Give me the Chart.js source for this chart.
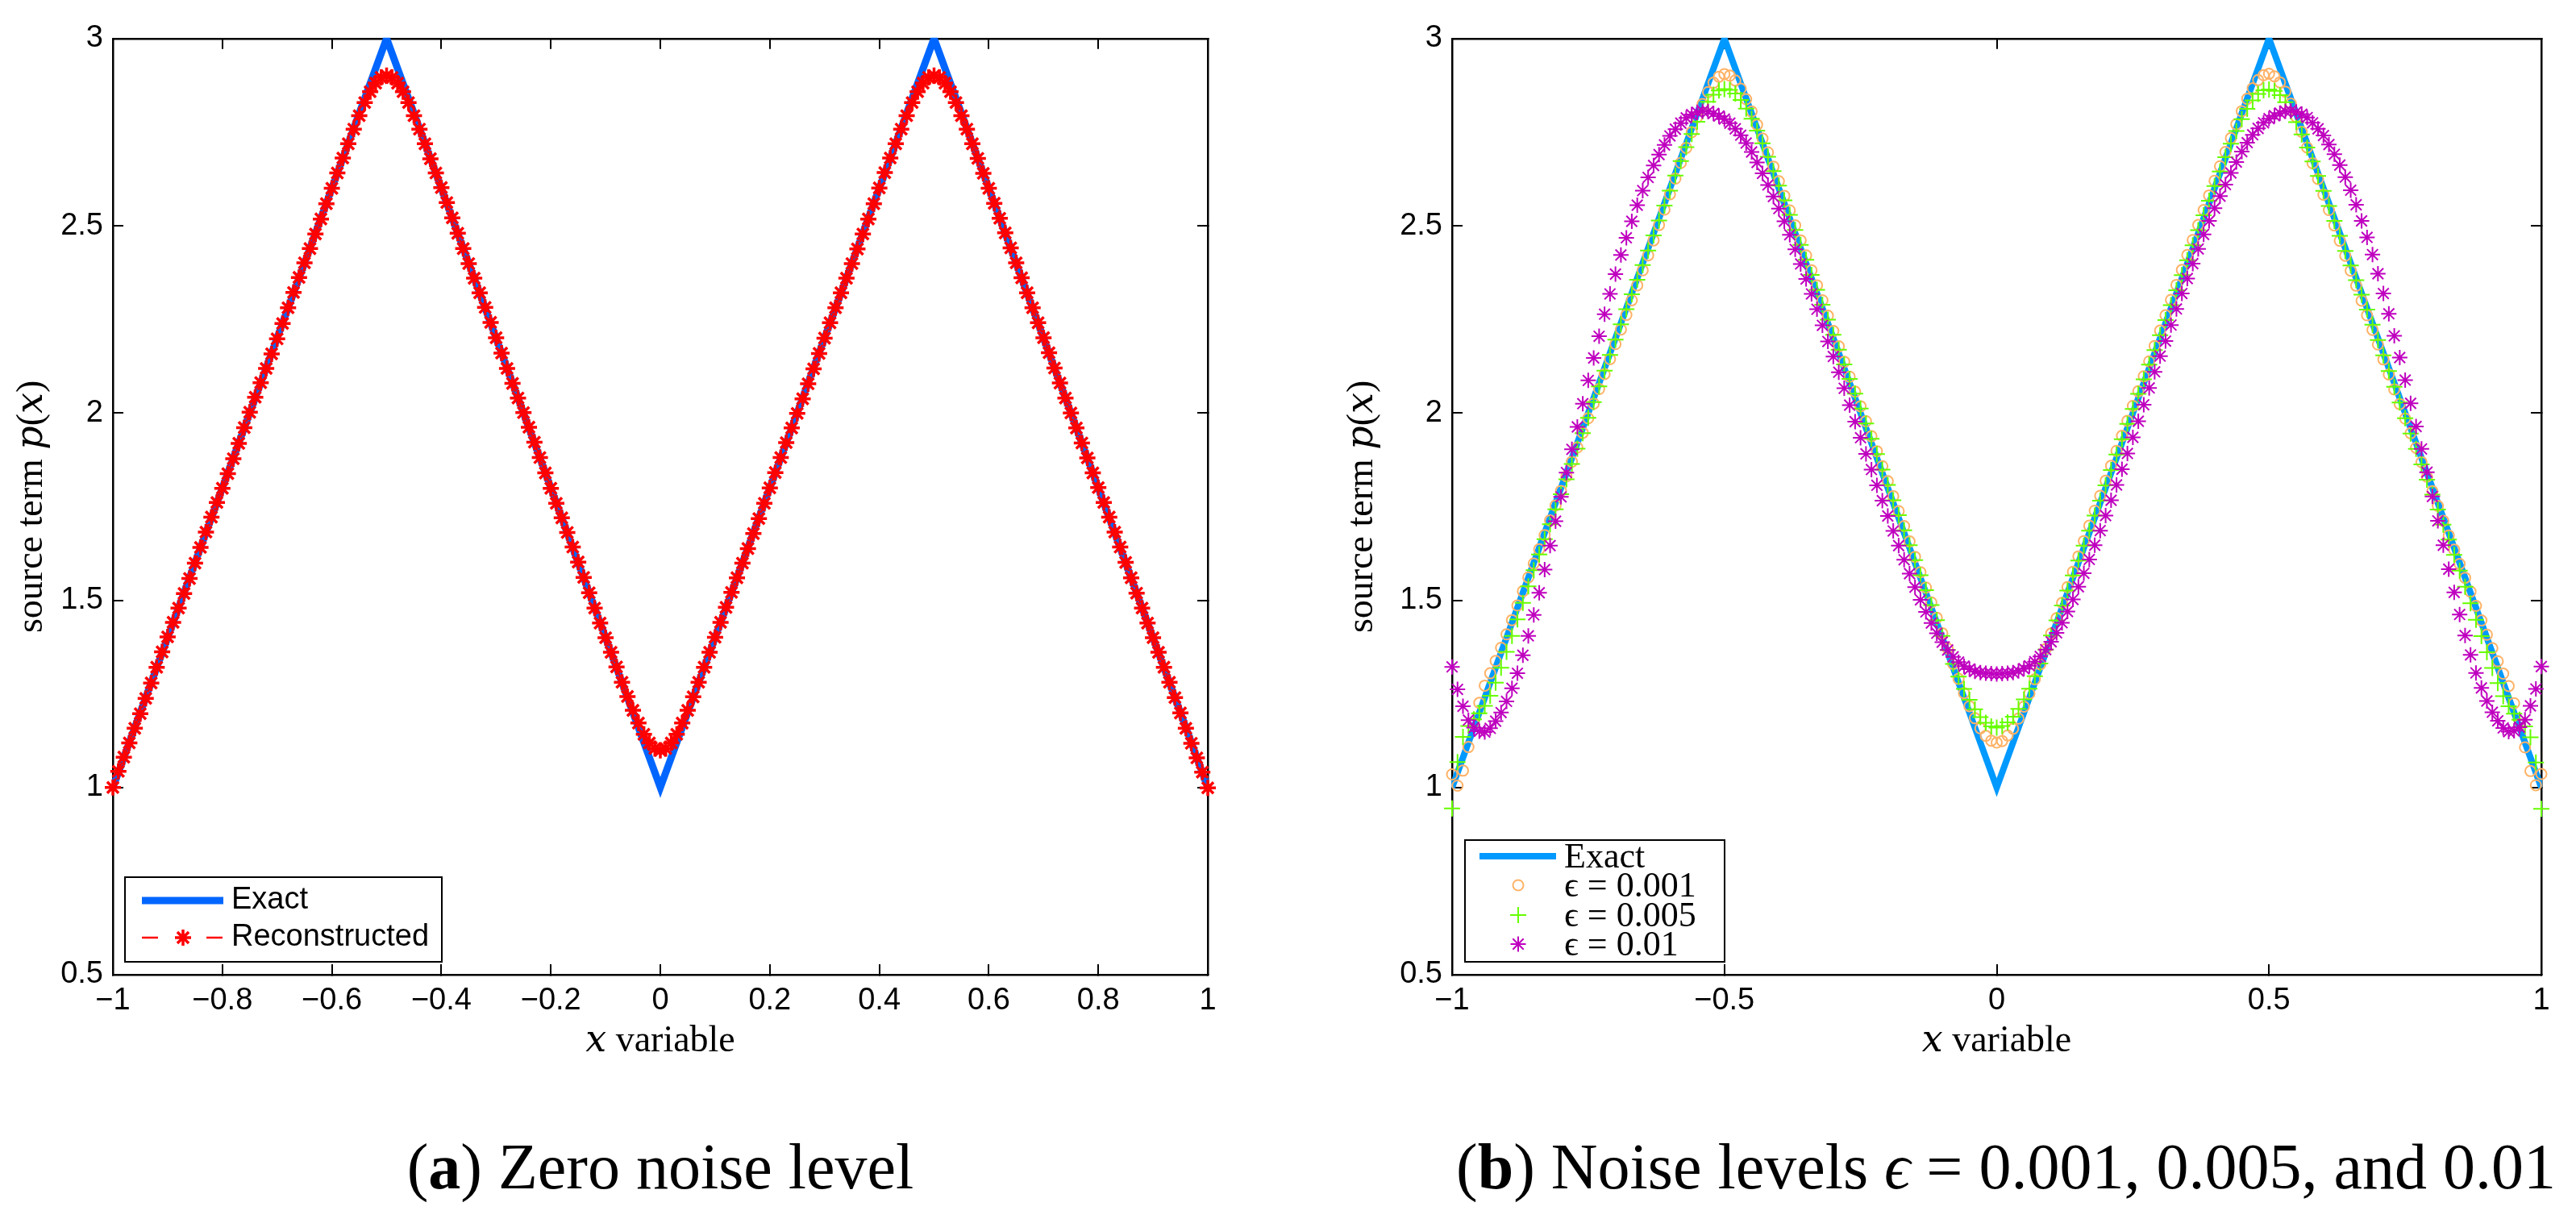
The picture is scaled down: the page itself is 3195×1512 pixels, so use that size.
<!DOCTYPE html>
<html><head><meta charset="utf-8">
<script src="https://cdn.jsdelivr.net/npm/chart.js@4.4.1/dist/chart.umd.min.js"></script>
<style>
html,body{margin:0;padding:0;background:#fff;}
body{width:3195px;height:1512px;position:relative;overflow:hidden;}
canvas{position:absolute;}
#cA{left:0;top:0;}
#cB{left:1650px;top:0;}
.cap{position:absolute;top:1402px;font-family:"Liberation Serif","Times New Roman",serif;font-size:80px;line-height:90px;color:#000;white-space:nowrap;transform:translateX(-50%);}
</style></head><body>
<canvas id="cA" width="1560" height="1340"></canvas>
<canvas id="cB" width="1545" height="1340"></canvas>
<div class="cap" style="left:819px">(<b>a</b>) Zero noise level</div>
<div class="cap" style="left:2488px">(<b>b</b>) Noise levels <i>ϵ</i> = 0.001, 0.005, and 0.01</div>
<script>
// ---------------- data ----------------
const xGrid = [
-1,-0.99,-0.98,-0.97,-0.96,-0.95,-0.94,-0.93,-0.92,-0.91,
-0.9,-0.89,-0.88,-0.87,-0.86,-0.85,-0.84,-0.83,-0.82,-0.81,
-0.8,-0.79,-0.78,-0.77,-0.76,-0.75,-0.74,-0.73,-0.72,-0.71,
-0.7,-0.69,-0.68,-0.67,-0.66,-0.65,-0.64,-0.63,-0.62,-0.61,
-0.6,-0.59,-0.58,-0.57,-0.56,-0.55,-0.54,-0.53,-0.52,-0.51,
-0.5,-0.49,-0.48,-0.47,-0.46,-0.45,-0.44,-0.43,-0.42,-0.41,
-0.4,-0.39,-0.38,-0.37,-0.36,-0.35,-0.34,-0.33,-0.32,-0.31,
-0.3,-0.29,-0.28,-0.27,-0.26,-0.25,-0.24,-0.23,-0.22,-0.21,
-0.2,-0.19,-0.18,-0.17,-0.16,-0.15,-0.14,-0.13,-0.12,-0.11,
-0.1,-0.09,-0.08,-0.07,-0.06,-0.05,-0.04,-0.03,-0.02,-0.01,
0,
0.01,0.02,0.03,0.04,0.05,0.06,0.07,0.08,0.09,
0.1,0.11,0.12,0.13,0.14,0.15,0.16,0.17,0.18,0.19,
0.2,0.21,0.22,0.23,0.24,0.25,0.26,0.27,0.28,0.29,
0.3,0.31,0.32,0.33,0.34,0.35,0.36,0.37,0.38,0.39,
0.4,0.41,0.42,0.43,0.44,0.45,0.46,0.47,0.48,0.49,
0.5,0.51,0.52,0.53,0.54,0.55,0.56,0.57,0.58,0.59,
0.6,0.61,0.62,0.63,0.64,0.65,0.66,0.67,0.68,0.69,
0.7,0.71,0.72,0.73,0.74,0.75,0.76,0.77,0.78,0.79,
0.8,0.81,0.82,0.83,0.84,0.85,0.86,0.87,0.88,0.89,
0.9,0.91,0.92,0.93,0.94,0.95,0.96,0.97,0.98,0.99,
1];

const exactX = [-1, -0.5, 0, 0.5, 1];
const exactY = [1, 3, 1, 3, 1];

const reconstructed = [
1.000,1.043,1.081,1.119,1.158,1.197,1.238,1.279,1.321,1.362,
1.402,1.441,1.479,1.518,1.558,1.599,1.641,1.682,1.722,1.761,
1.799,1.838,1.878,1.919,1.961,2.002,2.042,2.081,2.119,2.158,
2.198,2.239,2.281,2.322,2.362,2.401,2.439,2.478,2.518,2.559,
2.600,2.641,2.681,2.719,2.758,2.794,2.829,2.858,2.881,2.896,
2.901,2.896,2.881,2.858,2.829,2.794,2.758,2.719,2.679,2.641,
2.602,2.562,2.521,2.480,2.439,2.399,2.360,2.321,2.282,2.242,
2.201,2.160,2.119,2.079,2.040,2.001,1.962,1.922,1.881,1.840,
1.799,1.759,1.720,1.681,1.642,1.602,1.561,1.520,1.479,1.439,
1.400,1.361,1.322,1.281,1.243,1.206,1.172,1.142,1.119,1.104,
1.099,
1.104,1.119,1.142,1.172,1.206,1.242,1.281,1.321,1.361,
1.401,1.441,1.481,1.521,1.560,1.599,1.638,1.678,1.718,1.759,
1.800,1.841,1.881,1.921,1.960,1.999,2.038,2.078,2.118,2.159,
2.200,2.241,2.281,2.321,2.360,2.399,2.438,2.478,2.518,2.559,
2.601,2.642,2.681,2.719,2.758,2.794,2.829,2.858,2.881,2.896,
2.901,2.896,2.881,2.858,2.829,2.794,2.758,2.719,2.680,2.640,
2.600,2.560,2.520,2.481,2.441,2.401,2.361,2.321,2.281,2.241,
2.201,2.161,2.120,2.080,2.040,2.000,1.960,1.920,1.880,1.840,
1.801,1.761,1.722,1.682,1.642,1.601,1.560,1.519,1.479,1.439,
1.400,1.361,1.321,1.281,1.240,1.199,1.158,1.118,1.079,1.041,
0.999];

const eps001 = [
1.035,1.005,1.045,1.108,1.170,1.226,1.272,1.305,1.338,1.373,
1.409,1.447,1.486,1.524,1.561,1.598,1.636,1.674,1.713,1.753,
1.792,1.831,1.870,1.908,1.947,1.986,2.025,2.064,2.104,2.144,
2.184,2.223,2.262,2.301,2.341,2.381,2.421,2.461,2.502,2.543,
2.584,2.626,2.668,2.708,2.750,2.790,2.825,2.857,2.882,2.898,
2.905,2.901,2.888,2.866,2.838,2.805,2.770,2.733,2.696,2.658,
2.619,2.580,2.541,2.501,2.461,2.421,2.381,2.341,2.301,2.260,
2.219,2.178,2.137,2.097,2.057,2.018,1.978,1.938,1.898,1.858,
1.818,1.778,1.738,1.698,1.657,1.616,1.575,1.534,1.494,1.453,
1.412,1.371,1.330,1.290,1.252,1.217,1.185,1.158,1.138,1.125,
1.120,
1.124,1.139,1.157,1.184,1.216,1.251,1.289,1.329,1.370,
1.411,1.452,1.493,1.535,1.576,1.617,1.658,1.699,1.739,1.779,
1.819,1.859,1.899,1.939,1.979,2.019,2.058,2.098,2.138,2.179,
2.220,2.261,2.302,2.342,2.382,2.422,2.462,2.502,2.542,2.581,
2.620,2.659,2.697,2.734,2.771,2.806,2.839,2.867,2.889,2.902,
2.906,2.899,2.883,2.858,2.826,2.791,2.751,2.709,2.667,2.625,
2.583,2.542,2.501,2.460,2.420,2.380,2.340,2.300,2.261,2.222,
2.183,2.143,2.103,2.063,2.024,1.985,1.946,1.907,1.869,1.830,
1.791,1.752,1.712,1.673,1.635,1.597,1.560,1.523,1.485,1.446,
1.408,1.372,1.337,1.304,1.271,1.225,1.169,1.107,1.044,1.006,
1.036];

const eps005 = [
0.944,1.068,1.135,1.164,1.182,1.198,1.218,1.245,1.280,1.320,
1.362,1.405,1.449,1.493,1.537,1.580,1.622,1.663,1.703,1.743,
1.783,1.823,1.864,1.905,1.946,1.987,2.029,2.071,2.113,2.155,
2.196,2.237,2.277,2.317,2.356,2.395,2.434,2.474,2.514,2.554,
2.594,2.634,2.673,2.710,2.745,2.778,2.807,2.831,2.850,2.861,
2.865,2.863,2.853,2.836,2.813,2.786,2.754,2.720,2.684,2.646,
2.607,2.568,2.529,2.489,2.449,2.409,2.369,2.329,2.289,2.249,
2.209,2.169,2.130,2.091,2.052,2.012,1.972,1.931,1.890,1.849,
1.808,1.767,1.727,1.687,1.647,1.607,1.567,1.527,1.487,1.447,
1.405,1.367,1.330,1.296,1.263,1.234,1.209,1.188,1.173,1.163,
1.160,
1.164,1.174,1.189,1.210,1.235,1.264,1.297,1.331,1.368,
1.406,1.446,1.486,1.526,1.566,1.606,1.646,1.686,1.726,1.766,
1.807,1.848,1.889,1.930,1.971,2.011,2.051,2.090,2.129,2.168,
2.208,2.248,2.288,2.328,2.368,2.408,2.448,2.488,2.528,2.567,
2.606,2.645,2.683,2.719,2.753,2.785,2.812,2.835,2.852,2.862,
2.864,2.860,2.849,2.830,2.806,2.777,2.744,2.709,2.672,2.633,
2.593,2.553,2.513,2.473,2.433,2.394,2.355,2.316,2.276,2.236,
2.195,2.154,2.112,2.070,2.028,1.986,1.945,1.904,1.863,1.822,
1.782,1.742,1.702,1.662,1.621,1.579,1.536,1.492,1.448,1.404,
1.361,1.319,1.279,1.244,1.217,1.197,1.181,1.163,1.134,1.067,
0.943];

const eps01 = [
1.322,1.262,1.217,1.180,1.160,1.150,1.148,1.158,1.177,1.200,
1.230,1.265,1.305,1.353,1.405,1.461,1.520,1.582,1.646,1.711,
1.776,1.841,1.903,1.963,2.025,2.087,2.147,2.205,2.264,2.318,
2.371,2.422,2.468,2.512,2.555,2.594,2.629,2.661,2.690,2.716,
2.740,2.758,2.774,2.788,2.797,2.803,2.806,2.805,2.800,2.793,
2.785,2.774,2.759,2.742,2.721,2.697,2.669,2.640,2.609,2.578,
2.546,2.512,2.476,2.437,2.398,2.358,2.318,2.277,2.234,2.191,
2.151,2.109,2.066,2.021,1.977,1.934,1.891,1.849,1.807,1.766,
1.725,1.685,1.646,1.608,1.571,1.535,1.501,1.469,1.439,1.412,
1.388,1.367,1.349,1.335,1.324,1.316,1.310,1.307,1.305,1.304,
1.303,
1.304,1.305,1.307,1.311,1.317,1.325,1.336,1.350,1.368,
1.389,1.413,1.440,1.470,1.502,1.536,1.572,1.609,1.647,1.686,
1.726,1.767,1.808,1.850,1.892,1.935,1.978,2.022,2.067,2.110,
2.152,2.192,2.235,2.278,2.319,2.359,2.399,2.438,2.477,2.513,
2.547,2.579,2.610,2.641,2.670,2.698,2.722,2.743,2.760,2.775,
2.786,2.794,2.801,2.806,2.807,2.804,2.798,2.789,2.775,2.759,
2.741,2.717,2.691,2.662,2.630,2.595,2.556,2.513,2.469,2.423,
2.372,2.319,2.265,2.206,2.148,2.088,2.026,1.964,1.904,1.842,
1.777,1.712,1.647,1.583,1.521,1.462,1.406,1.354,1.306,1.266,
1.231,1.201,1.178,1.159,1.149,1.151,1.161,1.181,1.218,1.263,
1.323];

const xTicksA = [-1,-0.8,-0.6,-0.4,-0.2,0,0.2,0.4,0.6,0.8,1];
const xLabelsA = ['\u22121','\u22120.8','\u22120.6','\u22120.4','\u22120.2','0','0.2','0.4','0.6','0.8','1'];
const xTicksB = [-1,-0.5,0,0.5,1];
const xLabelsB = ['\u22121','\u22120.5','0','0.5','1'];
const yTicks = [0.5,1,1.5,2,2.5,3];
const yLabels = ['0.5','1','1.5','2','2.5','3'];

const labelsA = ['Exact','Reconstructed'];
const labelsB = ['Exact','\u03F5 = 0.001','\u03F5 = 0.005','\u03F5 = 0.01'];
const xTitle = '\uD835\uDC65 variable';
const yTitle = 'source term \uD835\uDC5D(\uD835\uDC65)';

// ---------------- helpers ----------------
const SANS = "'Liberation Sans', Arial, Helvetica, sans-serif";
const SERIF = "'Liberation Serif', 'Times New Roman', 'DejaVu Serif', serif";
const pts = (xs, ys) => xs.map((x, i) => ({x: x, y: ys[i]}));

function drawMarker(ctx, style, x, y, r) {
  ctx.beginPath();
  if (style === 'circle') {
    ctx.arc(x, y, r, 0, Math.PI * 2);
  } else {
    ctx.moveTo(x - r, y); ctx.lineTo(x + r, y);
    ctx.moveTo(x, y - r); ctx.lineTo(x, y + r);
    if (style === 'star') {
      const d = r * Math.SQRT1_2;
      ctx.moveTo(x - d, y - d); ctx.lineTo(x + d, y + d);
      ctx.moveTo(x - d, y + d); ctx.lineTo(x + d, y - d);
    }
  }
  ctx.stroke();
}

const boxLegend = {
  id: 'boxLegend',
  afterDatasetsDraw(chart, args, o) {
    const ctx = chart.ctx;
    ctx.save();
    ctx.fillStyle = '#fff';
    ctx.fillRect(o.box[0], o.box[1], o.box[2], o.box[3]);
    ctx.strokeStyle = '#000'; ctx.lineWidth = 2; ctx.setLineDash([]);
    ctx.strokeRect(o.box[0], o.box[1], o.box[2], o.box[3]);
    chart.data.datasets.forEach((ds, i) => {
      const y = o.rows[i];
      if (ds.showLine !== false) {
        ctx.save();
        ctx.strokeStyle = ds.borderColor;
        ctx.lineWidth = ds.borderWidth;
        ctx.lineCap = 'butt';
        ctx.setLineDash(ds.borderDash ? o.dash : []);
        ctx.beginPath(); ctx.moveTo(o.line[0], y); ctx.lineTo(o.line[1], y); ctx.stroke();
        ctx.restore();
      }
      if (ds.pointRadius > 0) {
        ctx.save();
        ctx.strokeStyle = ds.pointBorderColor;
        ctx.lineWidth = ds.pointBorderWidth;
        ctx.setLineDash([]);
        drawMarker(ctx, ds.pointStyle, o.markX, y, ds.pointRadius);
        ctx.restore();
      }
      ctx.fillStyle = '#000';
      ctx.font = o.font;
      ctx.textBaseline = 'middle';
      ctx.textAlign = 'left';
      ctx.fillText(ds.label, o.textX, y + (o.textDy || 0));
    });
    ctx.restore();
  }
};

function makeScales(xTicks, xLabels, yWidth) {
  const tickFont = {family: SANS, size: 38};
  const grid = {drawOnChartArea: false, drawTicks: true, tickLength: -13, color: '#000', lineWidth: 2};
  const border = {display: true, color: '#000', width: 2.5};
  const setX = s => { s.ticks = xTicks.map(v => ({value: v})); };
  const setY = s => { s.ticks = yTicks.map(v => ({value: v})); };
  return {
    x: {type: 'linear', position: 'bottom', min: -1, max: 1,
        afterBuildTicks: setX, afterFit: s => { s.height = 131; },
        ticks: {callback: (v, i) => xLabels[i], font: tickFont, color: '#000', padding: 23, maxRotation: 0, autoSkip: false},
        grid: grid, border: border,
        title: {display: true, text: xTitle, color: '#000', font: {family: SERIF, size: 46, lineHeight: 1}, padding: {top: 0, bottom: 25}}},
    x2: {type: 'linear', axis: 'x', position: 'top', min: -1, max: 1,
        afterBuildTicks: setX, afterFit: s => { s.height = 0; },
        ticks: {display: false}, grid: grid, border: border},
    y: {type: 'linear', position: 'left', min: 0.5, max: 3,
        afterBuildTicks: setY, afterFit: s => { s.width = yWidth; },
        ticks: {callback: (v, i) => yLabels[i], font: tickFont, color: '#000', padding: 25, autoSkip: false},
        grid: grid, border: border,
        title: {display: true, text: yTitle, color: '#000', font: {family: SERIF, size: 46, lineHeight: 1}, padding: {top: 17, bottom: 0}}},
    y2: {type: 'linear', axis: 'y', position: 'right', min: 0.5, max: 3,
        afterBuildTicks: setY, afterFit: s => { s.width = 0; },
        ticks: {display: false}, grid: grid, border: border}
  };
}

const common = {
  responsive: false, animation: false, devicePixelRatio: 1, events: [],
  plugins: {legend: {display: false}, tooltip: {enabled: false}}
};

// ---------------- chart (a) ----------------
new Chart(document.getElementById('cA'), {
  type: 'line',
  data: {datasets: [
    {label: labelsA[0], data: pts(exactX, exactY), borderColor: '#0066FF', borderWidth: 9,
     pointRadius: 0, order: 2, clip: 1},
    {label: labelsA[1], data: pts(xGrid, reconstructed), borderColor: '#FF0000', borderWidth: 2.5,
     borderDash: [12, 9], pointStyle: 'star', pointRadius: 10, pointBorderWidth: 3.5,
     pointBorderColor: '#FF0000', pointBackgroundColor: '#FF0000', order: 1, clip: false}
  ]},
  options: Object.assign({}, common, {
    layout: {padding: {top: 40, right: 62, left: 0, bottom: 0}},
    scales: makeScales(xTicksA, xLabelsA, 140),
    plugins: Object.assign({}, common.plugins, {
      boxLegend: {box: [155, 1088, 393, 105], rows: [1117, 1163], line: [176, 277], dash: [20, 60],
                  markX: 227, textX: 287, font: "38px " + SANS}
    })
  }),
  plugins: [boxLegend]
});

// ---------------- chart (b) ----------------
new Chart(document.getElementById('cB'), {
  type: 'line',
  data: {datasets: [
    {label: labelsB[0], data: pts(exactX, exactY), borderColor: '#0099FF', borderWidth: 8,
     pointRadius: 0, order: 4, clip: 1},
    {label: labelsB[1], data: pts(xGrid, eps001), showLine: false, pointStyle: 'circle', pointRadius: 6.5,
     pointBorderWidth: 2, pointBorderColor: '#FFB266', pointBackgroundColor: 'rgba(0,0,0,0)', order: 3, clip: false},
    {label: labelsB[2], data: pts(xGrid, eps005), showLine: false, pointStyle: 'cross', pointRadius: 10,
     pointBorderWidth: 2, pointBorderColor: '#66FF00', pointBackgroundColor: '#66FF00', order: 2, clip: false},
    {label: labelsB[3], data: pts(xGrid, eps01), showLine: false, pointStyle: 'star', pointRadius: 9.5,
     pointBorderWidth: 2, pointBorderColor: '#BF00BF', pointBackgroundColor: '#BF00BF', order: 1, clip: false}
  ]},
  options: Object.assign({}, common, {
    layout: {padding: {top: 40, right: 43, left: 0, bottom: 0}},
    scales: makeScales(xTicksB, xLabelsB, 151),
    plugins: Object.assign({}, common.plugins, {
      boxLegend: {box: [167, 1042, 322, 151], rows: [1062, 1098, 1135, 1171], line: [185, 280], dash: [],
                  markX: 233, textX: 290, font: "44px " + SERIF, textDy: 2}
    })
  }),
  plugins: [boxLegend]
});
</script>
</body></html>
